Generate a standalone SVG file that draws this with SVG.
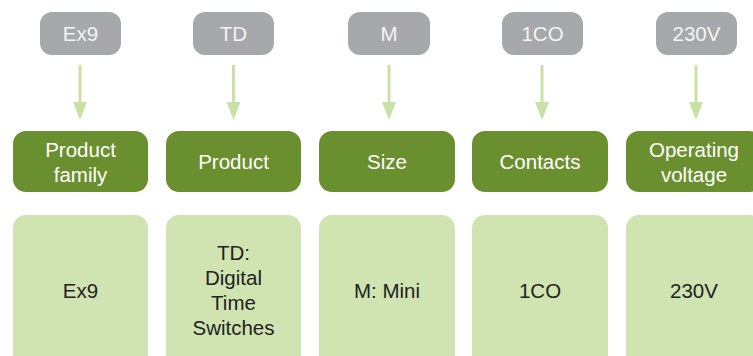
<svg xmlns="http://www.w3.org/2000/svg" width="753" height="356" viewBox="0 0 753 356">
<defs>
<style>
.code{fill:#a7a8ab}
.cat{fill:#6a8f2e}
.val{fill:#cfe4b0}
.t{font-family:"Liberation Sans",Arial,sans-serif;font-size:20.5px;text-anchor:middle}
.tw{fill:#ffffff}
.tg{fill:#f4f4f4}
.td{fill:#222222}
.conn line{stroke:#c8e2a6;stroke-width:3}
.conn path{fill:#c8e2a6}
</style>
</defs>
<rect width="753" height="356" fill="#ffffff"/>
<g id="code-ex9"><rect class="code" x="40" y="12" width="81" height="43" rx="12"/><text class="t tg" x="80.5" y="41">Ex9</text></g>
<g id="code-td"><rect class="code" x="193" y="12" width="81" height="43" rx="12"/><text class="t tg" x="233.5" y="41">TD</text></g>
<g id="code-m"><rect class="code" x="348" y="12" width="82" height="43" rx="12"/><text class="t tg" x="389" y="41">M</text></g>
<g id="code-1co"><rect class="code" x="502" y="12" width="81" height="43" rx="12"/><text class="t tg" x="542.5" y="41">1CO</text></g>
<g id="code-230v"><rect class="code" x="656" y="12" width="81" height="43" rx="12"/><text class="t tg" x="696.5" y="41">230V</text></g>
<g class="conn" id="connectors">
<line x1="80" y1="65" x2="80" y2="103"/><path d="M73 102 L87 102 L80 120 Z"/>
<line x1="233.5" y1="65" x2="233.5" y2="103"/><path d="M226.5 102 L240.5 102 L233.5 120 Z"/>
<line x1="389" y1="65" x2="389" y2="103"/><path d="M382 102 L396 102 L389 120 Z"/>
<line x1="542" y1="65" x2="542" y2="103"/><path d="M535 102 L549 102 L542 120 Z"/>
<line x1="696" y1="65" x2="696" y2="103"/><path d="M689 102 L703 102 L696 120 Z"/>
</g>
<g id="cat-family"><rect class="cat" x="13" y="131" width="135" height="61" rx="13"/><text class="t tw" x="80.5" y="157">Product</text><text class="t tw" x="80.5" y="182">family</text></g>
<g id="cat-product"><rect class="cat" x="166" y="131" width="135" height="61" rx="13"/><text class="t tw" x="233.5" y="169">Product</text></g>
<g id="cat-size"><rect class="cat" x="319" y="131" width="136" height="61" rx="13"/><text class="t tw" x="387" y="169">Size</text></g>
<g id="cat-contacts"><rect class="cat" x="472" y="131" width="136" height="61" rx="13"/><text class="t tw" x="540" y="169">Contacts</text></g>
<g id="cat-voltage"><rect class="cat" x="626" y="131" width="136" height="61" rx="13"/><text class="t tw" x="694" y="157">Operating</text><text class="t tw" x="694" y="182">voltage</text></g>
<g id="val-ex9"><rect class="val" x="13" y="215" width="135" height="160" rx="13"/><text class="t td" x="80.5" y="298">Ex9</text></g>
<g id="val-td"><rect class="val" x="166" y="215" width="135" height="160" rx="13"/><text class="t td" x="233.5" y="260">TD:</text><text class="t td" x="233.5" y="285">Digital</text><text class="t td" x="233.5" y="310">Time</text><text class="t td" x="233.5" y="335">Switches</text></g>
<g id="val-m"><rect class="val" x="319" y="215" width="136" height="160" rx="13"/><text class="t td" x="387" y="298">M: Mini</text></g>
<g id="val-1co"><rect class="val" x="472" y="215" width="136" height="160" rx="13"/><text class="t td" x="540" y="298">1CO</text></g>
<g id="val-230v"><rect class="val" x="626" y="215" width="136" height="160" rx="13"/><text class="t td" x="694" y="298">230V</text></g>
</svg>
